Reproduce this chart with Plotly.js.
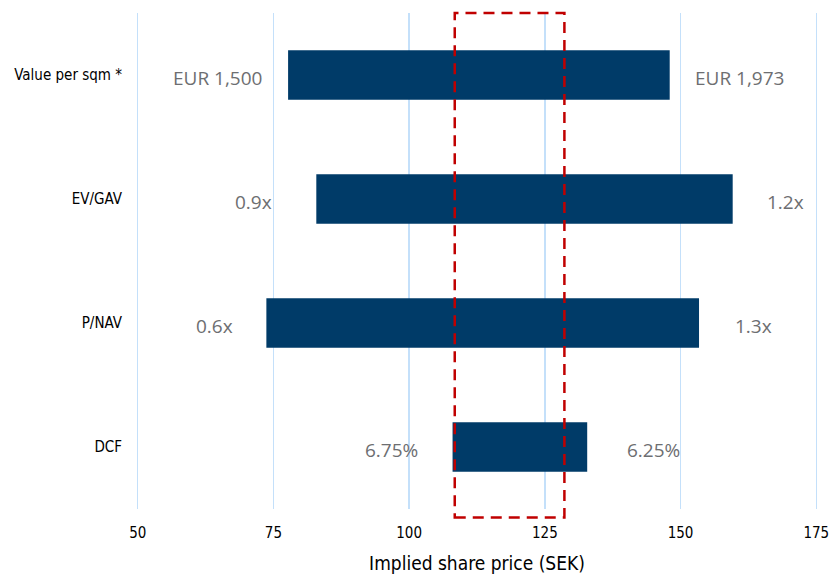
<!DOCTYPE html>
<html>
<head>
<meta charset="utf-8">
<script src="https://cdn.plot.ly/plotly-3.0.1.min.js"></script>
<style>
  html, body { margin: 0; padding: 0; background: #ffffff; }
  #chart { width: 832px; height: 574px; }
</style>
</head>
<body>
<div id="chart"></div>
<script>
// Valuation methods, top to bottom
const methods = ["Value per sqm *", "EV/GAV", "P/NAV", "DCF"];
// Implied share price range (SEK) per method
const lowPrice  = [77.7, 82.9, 73.7, 108.0];
const highPrice = [148.0, 159.6, 153.4, 132.8];
// Assumption behind each end of the range
const lowLabels  = ["EUR 1,500", "0.9x", "0.6x", "6.75%"];
const highLabels = ["EUR 1,973", "1.2x", "1.3x", "6.25%"];
// Highlighted fair-value band (SEK)
const bandRange = [108.4, 128.6];
const xTicks = [50, 75, 100, 125, 150, 175];

// horizontal gaps (px) between each label and its bar end
const leftGap  = [24, 42, 31, 33];
const rightGap = [23, 32, 34, 38];

const barColor = "#003b68";
const labelColor = "#6d6e71";
const gridColor = "#c4e0fa";
const axisFont = "'DejaVu Sans Condensed', 'Liberation Sans Narrow', 'DejaVu Sans', sans-serif";
const valueFont = "'Open Sans', Roboto, sans-serif";

const trace = {
  type: "bar",
  orientation: "h",
  y: methods,
  base: lowPrice,
  x: highPrice.map((h, i) => h - lowPrice[i]),
  width: 0.4,
  marker: { color: barColor, line: { width: 0 } },
  hoverinfo: "skip",
  showlegend: false
};

const annotations = [];
methods.forEach((m, i) => {
  annotations.push({
    x: lowPrice[i], y: m, xref: "x", yref: "y",
    text: lowLabels[i], showarrow: false,
    xanchor: "right", yanchor: "middle",
    xshift: -leftGap[i], yshift: -3,
    font: { family: valueFont, size: 19, color: labelColor }
  });
  annotations.push({
    x: highPrice[i], y: m, xref: "x", yref: "y",
    text: highLabels[i], showarrow: false,
    xanchor: "left", yanchor: "middle",
    xshift: rightGap[i], yshift: -3,
    font: { family: valueFont, size: 19, color: labelColor }
  });
});

const layout = {
  width: 832, height: 574,
  margin: { l: 135, r: 13, t: 13, b: 65 },
  paper_bgcolor: "#ffffff",
  plot_bgcolor: "#ffffff",
  font: { family: axisFont, color: "#000000" },
  xaxis: {
    range: [49.5, 175.5],
    tickvals: xTicks,
    ticktext: xTicks.map(String),
    showgrid: true,
    gridcolor: gridColor,
    gridwidth: 1.5,
    zeroline: false,
    showline: false,
    ticks: "",
    ticklabelstandoff: 13,
    tickfont: { size: 15, color: "#000000", family: axisFont },
    title: { text: "Implied share price (SEK)", font: { size: 19, color: "#000000", family: axisFont }, standoff: 18 },
    fixedrange: true
  },
  yaxis: {
    type: "category",
    categoryorder: "array",
    categoryarray: methods,
    autorange: "reversed",
    showgrid: false,
    zeroline: false,
    showline: false,
    ticks: "",
    ticklabelstandoff: 12,
    tickfont: { size: 15, color: "#000000", family: axisFont },
    fixedrange: true
  },
  shapes: [{
    type: "rect",
    xref: "x", yref: "paper",
    x0: bandRange[0], x1: bandRange[1],
    y0: -0.017, y1: 1,
    line: { color: "#c00000", width: 2.5, dash: "11px,7px" },
    fillcolor: "rgba(0,0,0,0)",
    layer: "above"
  }],
  annotations: annotations,
  bargap: 0.6
};

Plotly.newPlot("chart", [trace], layout, { displayModeBar: false, staticPlot: true });
</script>
</body>
</html>
